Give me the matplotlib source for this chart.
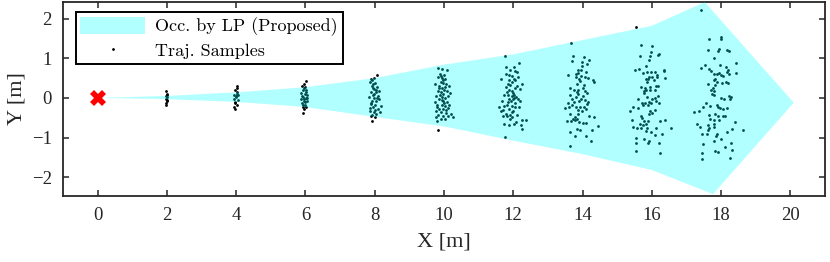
import matplotlib
matplotlib.use('Agg')
import matplotlib.pyplot as plt
from matplotlib.patches import Polygon, Patch
from matplotlib.lines import Line2D

# ── Data ────────────────────────────────────────────────────────────────────
# occupancy polygon from LP: upper edge left->right, then lower edge right->left
occ_upper_x = [0, 2, 4, 6, 8, 10, 12, 14, 16, 17.53, 20.1]
occ_upper_y = [0, 0.05, 0.14, 0.27, 0.50, 0.84, 1.10, 1.46, 1.82, 2.42, -0.12]
occ_lower_x = [17.77, 16, 14, 12, 10, 8, 6, 4, 2]
occ_lower_y = [-2.43, -1.82, -1.42, -1.08, -0.72, -0.48, -0.23, -0.10, -0.03]

start_xy = (0, 0)

# trajectory samples, one pair of lists per time step
s2_x = [1.98, 1.99, 1.96, 2.00, 1.97, 2.00, 1.96, 1.98, 2.01, 1.99]
s2_y = [0.17, 0.10, 0.05, 0.02, -0.03, -0.08, -0.13, -0.18, 0.07, -0.05]

s4_x = [4.02, 4.01, 3.97, 4.02, 3.95, 4.06, 3.99, 3.93, 4.04, 3.97, 4.01, 3.95,
        3.97, 4.03, 3.98, 4.00]
s4_y = [0.29, 0.24, 0.19, 0.14, 0.08, 0.07, 0.02, -0.03, -0.05, -0.10, -0.17,
        -0.22, -0.29, 0.11, -0.13, 0.04]

s6_x = [6.01, 5.96, 5.90, 5.98, 5.92, 6.01, 5.88, 5.98, 6.05, 5.92, 6.01, 5.86,
        5.96, 6.05, 5.90, 6.00, 5.94, 6.03, 5.96, 5.94, 5.95, 6.02, 5.91, 5.99,
        5.93, 6.04, 5.97]
s6_y = [0.43, 0.36, 0.31, 0.28, 0.21, 0.19, 0.13, 0.11, 0.08, 0.03, -0.01, -0.04,
        -0.07, -0.09, -0.14, -0.17, -0.23, -0.24, -0.29, -0.39, 0.24, 0.15,
        0.06, -0.11, -0.19, 0.00, -0.03]

s8_x = [8.06, 7.92, 7.88, 7.98, 7.86, 8.01, 7.92, 8.06, 7.98, 7.90, 8.03, 7.96,
        8.09, 7.84, 7.99, 7.92, 8.05, 8.11, 7.88, 8.01, 7.96, 8.09, 8.17, 7.86,
        7.99, 7.92, 8.05, 8.15, 7.88, 7.94, 8.03, 7.97, 8.08, 7.90, 8.00, 7.93,
        8.12, 7.85, 8.02, 7.95]
s8_y = [0.59, -0.58, 0.48, 0.50, 0.40, 0.38, 0.31, 0.28, 0.23, 0.16, 0.14, 0.08,
        0.06, 0.02, -0.01, -0.07, -0.09, -0.04, -0.16, -0.18, -0.24, -0.28,
        -0.21, -0.33, -0.36, -0.43, -0.40, -0.36, -0.46, 0.34, 0.21, 0.11,
        0.00, -0.12, -0.30, 0.44, 0.18, -0.26, -0.49, 0.26]

s10_x = [9.83, 9.94, 10.08, 9.88, 10.00, 9.84, 9.94, 10.02, 9.74, 9.91, 9.98,
         10.06, 10.15, 9.86, 9.94, 10.01, 9.82, 10.10, 9.90, 9.98, 10.17, 9.78,
         9.93, 10.03, 9.86, 9.73, 9.98, 10.09, 9.80, 9.93, 10.02, 10.15, 9.86,
         9.98, 9.77, 9.90, 10.07, 10.21, 9.84, 9.97, 10.11, 10.26, 9.78, 9.90,
         10.02, 9.81, 9.84, 9.96, 10.04, 9.89, 10.12, 9.79, 9.95, 10.06, 9.87,
         10.00, 9.92, 10.13]
s10_y = [0.76, 0.72, 0.71, 0.61, 0.59, 0.53, 0.51, 0.49, 0.34, 0.40, 0.37, 0.34,
         0.30, 0.25, 0.24, 0.20, 0.17, 0.17, 0.14, 0.10, 0.12, 0.05, 0.03, 0.00,
         -0.03, -0.10, -0.08, -0.10, -0.17, -0.18, -0.20, -0.18, -0.27, -0.28,
         -0.34, -0.35, -0.37, -0.40, -0.42, -0.45, -0.45, -0.49, -0.49, -0.54,
         -0.52, -0.59, -0.81, 0.44, 0.27, 0.08, 0.06, -0.22, -0.05, -0.30,
         0.31, -0.14, 0.55, -0.25]

s12_x = [11.75, 12.16, 11.78, 11.92, 12.01, 12.05, 12.12, 11.87, 11.97, 11.65,
         11.89, 12.01, 12.06, 11.95, 12.24, 11.79, 12.05, 11.89, 12.20, 11.83,
         11.97, 11.74, 11.85, 11.95, 12.02, 12.08, 11.89, 11.99, 11.68, 11.93,
         12.05, 12.20, 11.81, 11.97, 11.58, 11.74, 12.06, 12.18, 11.87, 11.99,
         11.66, 11.78, 11.70, 11.83, 11.91, 11.97, 12.10, 12.24, 12.36, 11.72,
         11.87, 12.02, 12.08, 12.22, 12.25, 11.76, 11.92, 12.00, 11.84, 12.13,
         11.96, 11.80, 12.03, 11.90, 12.10, 11.71, 12.14, 11.86]
s12_y = [1.05, 0.88, 0.78, 0.70, 0.78, 0.67, 0.65, 0.59, 0.55, 0.47, 0.46, 0.49,
         0.44, 0.39, 0.34, 0.28, 0.25, 0.21, 0.22, 0.15, 0.17, 0.07, 0.07, 0.05,
         0.08, 0.02, -0.02, -0.04, -0.07, -0.08, -0.12, -0.08, -0.17, -0.20,
         -0.24, -0.20, -0.24, -0.24, -0.29, -0.32, -0.34, -0.40, -0.45, -0.45,
         -0.44, -0.47, -0.42, -0.57, -0.57, -0.66, -0.69, -0.66, -0.61, -0.69,
         -0.79, -0.99, 0.32, 0.12, -0.10, 0.52, -0.36, 0.60, 0.00, -0.52,
         0.30, -0.30, -0.02, 0.36]

s14_x = [13.66, 13.74, 14.03, 14.19, 13.71, 13.98, 14.14, 13.88, 13.97, 13.58,
         13.82, 13.88, 13.95, 14.10, 13.80, 13.91, 14.06, 14.15, 14.30, 14.32,
         13.84, 14.05, 13.65, 13.75, 13.83, 13.87, 14.06, 14.13, 13.64, 13.87,
         14.00, 13.82, 13.96, 14.07, 14.15, 13.75, 13.90, 13.58, 13.71, 13.81,
         13.94, 14.04, 14.09, 13.49, 13.62, 13.87, 13.98, 14.18, 14.32, 13.65,
         13.79, 13.73, 13.83, 13.56, 13.67, 13.77, 13.91, 14.01, 14.09, 14.45,
         13.85, 13.94, 13.64, 14.26, 13.78, 14.11, 14.24, 13.65, 13.93, 14.02,
         13.70, 14.12, 13.86, 13.99]
s14_y = [1.39, 1.07, 1.03, 0.97, 0.92, 0.91, 0.86, 0.71, 0.70, 0.57, 0.60, 0.63,
         0.56, 0.65, 0.53, 0.47, 0.53, 0.50, 0.45, 0.40, 0.36, 0.32, 0.24, 0.19,
         0.15, 0.19, 0.18, 0.13, 0.07, 0.09, 0.05, 0.03, -0.04, -0.06, -0.11,
         -0.10, -0.08, -0.13, -0.19, -0.24, -0.24, -0.23, -0.28, -0.26, -0.23,
         -0.31, -0.34, -0.45, -0.48, -0.40, -0.48, -0.53, -0.53, -0.58, -0.58,
         -0.56, -0.61, -0.63, -0.63, -0.70, -0.78, -0.81, -0.85, -0.81, -0.95,
         -0.97, -1.10, -1.22, 0.42, 0.26, -0.02, -0.16, -0.40, 0.81]

s16_x = [15.54, 15.68, 16.01, 15.99, 15.66, 15.95, 16.21, 16.17, 15.93, 15.84,
         15.51, 15.64, 15.74, 15.86, 15.97, 16.10, 16.36, 16.36, 15.82, 15.88,
         15.93, 16.00, 16.06, 16.15, 16.16, 16.38, 15.85, 15.68, 15.81, 15.94,
         16.12, 16.19, 15.78, 15.79, 15.83, 15.96, 16.10, 16.19, 15.60, 15.85,
         16.02, 16.10, 15.73, 15.81, 15.91, 15.98, 16.12, 16.22, 15.47, 15.60,
         15.75, 15.89, 15.36, 15.95, 16.02, 16.08, 15.93, 15.70, 15.72, 15.44,
         15.78, 15.89, 16.23, 16.38, 15.66, 15.83, 15.74, 15.47, 15.57, 15.68,
         15.86, 16.12, 16.55, 15.84, 15.99, 16.29, 16.10, 15.55, 15.79, 15.93,
         15.89, 16.21, 15.55, 15.54, 16.25]
s16_y = [1.79, 1.34, 1.30, 1.16, 1.05, 1.06, 1.11, 1.08, 0.97, 0.81, 0.71, 0.74,
         0.63, 0.66, 0.66, 0.66, 0.71, 0.67, 0.49, 0.49, 0.54, 0.52, 0.44, 0.52,
         0.57, 0.51, 0.40, 0.28, 0.25, 0.28, 0.29, 0.29, 0.17, 0.13, 0.20, 0.19,
         0.20, 0.06, -0.02, 0.03, -0.02, 0.00, -0.12, -0.13, -0.10, -0.13, -0.08,
         -0.13, -0.24, -0.25, -0.19, -0.19, -0.34, -0.34, -0.37, -0.31, -0.40,
         -0.45, -0.50, -0.56, -0.59, -0.59, -0.58, -0.55, -0.66, -0.66, -0.69,
         -0.74, -0.76, -0.76, -0.76, -0.76, -0.76, -0.83, -0.86, -0.90, -0.94,
         -1.01, -1.04, -1.08, -1.13, -1.13, -1.13, -1.34, -1.38]

s18_x = [17.41, 17.66, 18.01, 18.01, 17.61, 17.94, 17.92, 18.18, 18.22, 17.80,
         18.44, 17.43, 17.55, 17.64, 17.96, 18.13, 18.20, 17.71, 17.79, 17.87,
         17.94, 18.00, 18.07, 18.18, 18.23, 18.44, 17.84, 17.79, 17.89, 18.02,
         18.13, 18.20, 17.62, 17.83, 17.76, 17.71, 17.80, 17.73, 17.81, 18.01,
         18.10, 18.23, 18.30, 18.26, 17.56, 17.67, 17.87, 17.92, 17.98, 18.07,
         18.16, 17.48, 17.36, 17.23, 17.66, 17.83, 17.92, 18.06, 18.11, 17.67,
         17.80, 17.94, 18.40, 17.32, 17.38, 17.61, 17.79, 17.81, 17.66, 17.63,
         18.17, 18.31, 18.63, 17.45, 17.59, 17.85, 17.89, 18.00, 17.80, 17.49,
         18.28, 18.11, 18.32, 17.84, 17.91, 17.45, 17.45, 18.26]
s18_y = [2.21, 1.48, 1.54, 1.50, 1.21, 1.24, 1.18, 1.21, 1.18, 1.02, 0.89, 0.76,
         0.84, 0.74, 0.82, 0.77, 0.71, 0.68, 0.60, 0.61, 0.64, 0.59, 0.55, 0.66,
         0.61, 0.63, 0.49, 0.46, 0.39, 0.37, 0.39, 0.37, 0.34, 0.32, 0.25, 0.21,
         0.18, 0.09, 0.08, 0.00, -0.02, 0.05, 0.02, -0.03, -0.14, -0.21, -0.18,
         -0.22, -0.25, -0.27, -0.26, -0.24, -0.34, -0.35, -0.42, -0.41, -0.45,
         -0.46, -0.46, -0.54, -0.56, -0.56, -0.62, -0.66, -0.74, -0.69, -0.66,
         -0.74, -0.77, -0.82, -0.86, -0.78, -0.82, -0.92, -0.91, -0.95, -0.91,
         -1.05, -1.08, -1.16, -1.13, -1.24, -1.32, -1.34, -1.36, -1.39, -1.55,
         -1.53]

samples_x = s2_x + s4_x + s6_x + s8_x + s10_x + s12_x + s14_x + s16_x + s18_x
samples_y = s2_y + s4_y + s6_y + s8_y + s10_y + s12_y + s14_y + s16_y + s18_y

x_ticks = list(range(0, 21, 2))
y_ticks = [-2, -1, 0, 1, 2]

# ── Style ───────────────────────────────────────────────────────────────────
plt.rcParams['font.family'] = ['Liberation Serif', 'DejaVu Serif']
axis_col = '#262626'
occ_col = '#00ffff'   # MATLAB 'c'

fig = plt.figure(figsize=(8.3, 2.62), dpi=100)
ax = fig.add_axes([0.0759, 0.253, 0.918, 0.739])

# samples first, translucent polygon on top (dots look teal inside it)
ax.plot(samples_x, samples_y, ls='none', marker='o', ms=2.0, mew=0,
        color='k', zorder=2)

poly_xy = list(zip(occ_upper_x + occ_lower_x, occ_upper_y + occ_lower_y))
ax.add_patch(Polygon(poly_xy, closed=True, facecolor=occ_col, alpha=0.3,
                     edgecolor='none', zorder=3))

ax.plot(*start_xy, marker='X', ms=11, color='red', mew=0, zorder=4)

ax.set_xlim(-1, 21)
ax.set_ylim(-2.47, 2.42)
ax.set_xticks(x_ticks)
ax.set_yticks(y_ticks)
ax.set_yticklabels(['\u22122', '\u22121', '0', '1', '2'])
ax.tick_params(direction='in', length=4.5, width=1.1, colors=axis_col,
               labelcolor=axis_col, labelsize=13.5, top=True, right=True,
               pad=8)
for sp in ax.spines.values():
    sp.set_linewidth(1.3)
    sp.set_color(axis_col)

ax.set_xlabel('X [m]', fontsize=16, color=axis_col, labelpad=6)
ax.set_ylabel('Y [m]', fontsize=16, color=axis_col, labelpad=4)

handles = [Patch(facecolor=occ_col, alpha=0.3, edgecolor='none'),
           Line2D([], [], ls='none', marker='o', ms=2.0, mew=0, color='k')]
leg = ax.legend(handles, ['Occ. by LP (Proposed)', 'Traj. Samples'],
                loc='upper left', bbox_to_anchor=(0.004, 1.0),
                prop={'family': 'cmr10', 'size': 13}, fancybox=False,
                framealpha=1, edgecolor='k', borderpad=0.25,
                handlelength=3.6, handleheight=1.1, handletextpad=0.55,
                labelspacing=0.3, borderaxespad=0.55)
leg.get_frame().set_linewidth(1.4)

fig.savefig('out.png', dpi=100)
